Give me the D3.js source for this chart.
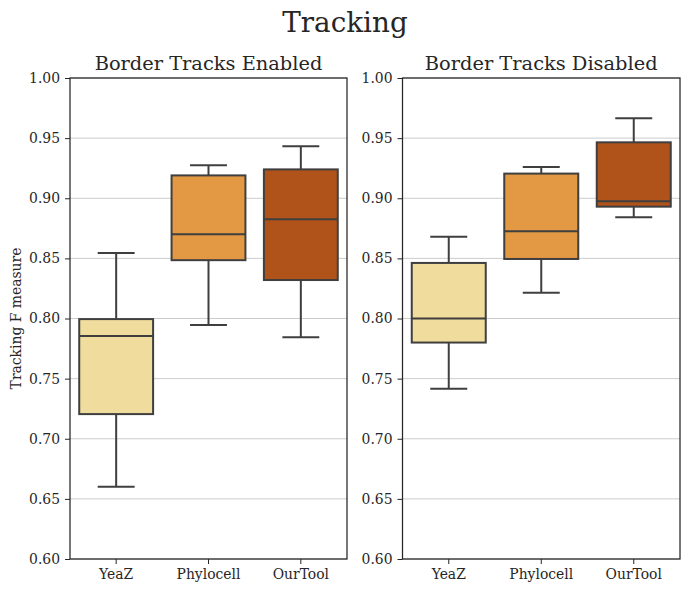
<!DOCTYPE html>
<html>
<head>
<meta charset="utf-8">
<script src="https://cdn.jsdelivr.net/npm/d3@7"></script>
<style>
  body { margin: 0; background: #fff; }
  svg { display: block; }
  text { font-family: "DejaVu Serif", serif; fill: #262626; }
</style>
</head>
<body>
<svg id="chart" width="690" height="593"></svg>
<script>
// ---- data ----
const categories = ["YeaZ", "Phylocell", "OurTool"];
const panelTitles = ["Border Tracks Enabled", "Border Tracks Disabled"];
const colors = ["#f0dc9c", "#e39843", "#b0531a"];
// five-number summaries: [whiskerLow, q1, median, q3, whiskerHigh]
const enabledStats = [
  [0.660, 0.7205, 0.7855, 0.7995, 0.8545],
  [0.7945, 0.8485, 0.8700, 0.9190, 0.9275],
  [0.7845, 0.8320, 0.8825, 0.9240, 0.9432]
];
const disabledStats = [
  [0.7415, 0.7800, 0.8000, 0.8462, 0.8680],
  [0.8215, 0.8495, 0.8725, 0.9205, 0.9260],
  [0.8843, 0.8930, 0.8975, 0.9465, 0.9665]
];
const yTicks = [0.60, 0.65, 0.70, 0.75, 0.80, 0.85, 0.90, 0.95, 1.00];
const yDomain = [0.60, 1.00];

// ---- layout ----
const svg = d3.select("#chart");
const plotTop = 78, plotBottom = 559;
const panels = [
  { x0: 70, x1: 347, stats: enabledStats, title: panelTitles[0] },
  { x0: 402.5, x1: 680, stats: disabledStats, title: panelTitles[1] }
];
const lineColor = "#3f3f3f";
const tickFont = "13.9px";

svg.append("text")
  .attr("x", 345).attr("y", 31.5)
  .attr("text-anchor", "middle")
  .style("font-size", "27.8px")
  .text("Tracking");

svg.append("text")
  .attr("transform", `translate(20.5,${(plotTop + plotBottom) / 2}) rotate(-90)`)
  .attr("text-anchor", "middle")
  .style("font-size", tickFont)
  .text("Tracking F measure");

panels.forEach(p => {
  const y = d3.scaleLinear().domain(yDomain).range([plotBottom, plotTop]);
  const x = d3.scaleBand().domain(categories).range([p.x0, p.x1]).paddingInner(0).paddingOuter(0);
  const g = svg.append("g");

  // grid
  g.append("g").selectAll("line").data(yTicks).join("line")
    .attr("x1", p.x0).attr("x2", p.x1)
    .attr("y1", d => y(d)).attr("y2", d => y(d))
    .attr("stroke", "#cccccc").attr("stroke-width", 1);

  // y axis
  const ya = g.append("g").attr("transform", `translate(${p.x0},0)`)
    .call(d3.axisLeft(y).tickValues(yTicks).tickFormat(d3.format(".2f")).tickSize(5).tickPadding(5));
  ya.select(".domain").remove();
  ya.selectAll("line").attr("stroke", "#262626").attr("stroke-width", 1);
  ya.selectAll("text").style("font-size", tickFont).style("font-family", "DejaVu Serif").attr("fill", "#262626");

  // x axis
  const xa = g.append("g").attr("transform", `translate(0,${plotBottom})`)
    .call(d3.axisBottom(x).tickSize(5).tickPadding(5));
  xa.select(".domain").remove();
  xa.selectAll("line").attr("stroke", "#262626").attr("stroke-width", 1);
  xa.selectAll("text").style("font-size", tickFont).style("font-family", "DejaVu Serif").attr("fill", "#262626");

  // boxes
  const bw = x.bandwidth() * 0.8;
  const cw = bw * 0.5;
  categories.forEach((c, i) => {
    const s = p.stats[i];
    const cx = x(c) + x.bandwidth() / 2;
    const bg = g.append("g").attr("stroke", lineColor).attr("stroke-width", 2).attr("fill", "none");
    bg.append("line").attr("x1", cx).attr("x2", cx).attr("y1", y(s[0])).attr("y2", y(s[1]));
    bg.append("line").attr("x1", cx).attr("x2", cx).attr("y1", y(s[3])).attr("y2", y(s[4]));
    bg.append("line").attr("x1", cx - cw / 2).attr("x2", cx + cw / 2).attr("y1", y(s[0])).attr("y2", y(s[0]));
    bg.append("line").attr("x1", cx - cw / 2).attr("x2", cx + cw / 2).attr("y1", y(s[4])).attr("y2", y(s[4]));
    bg.append("rect").attr("x", cx - bw / 2).attr("width", bw)
      .attr("y", y(s[3])).attr("height", y(s[1]) - y(s[3]))
      .attr("fill", colors[i]);
    bg.append("line").attr("x1", cx - bw / 2).attr("x2", cx + bw / 2).attr("y1", y(s[2])).attr("y2", y(s[2]));
  });

  // frame
  g.append("rect").attr("x", p.x0).attr("y", plotTop).attr("width", p.x1 - p.x0).attr("height", plotBottom - plotTop)
    .attr("fill", "none").attr("stroke", "#262626").attr("stroke-width", 1.25);

  // title
  svg.append("text")
    .attr("x", (p.x0 + p.x1) / 2).attr("y", 69.5)
    .attr("text-anchor", "middle")
    .style("font-size", "19.4px")
    .text(p.title);
});
</script>
</body>
</html>
